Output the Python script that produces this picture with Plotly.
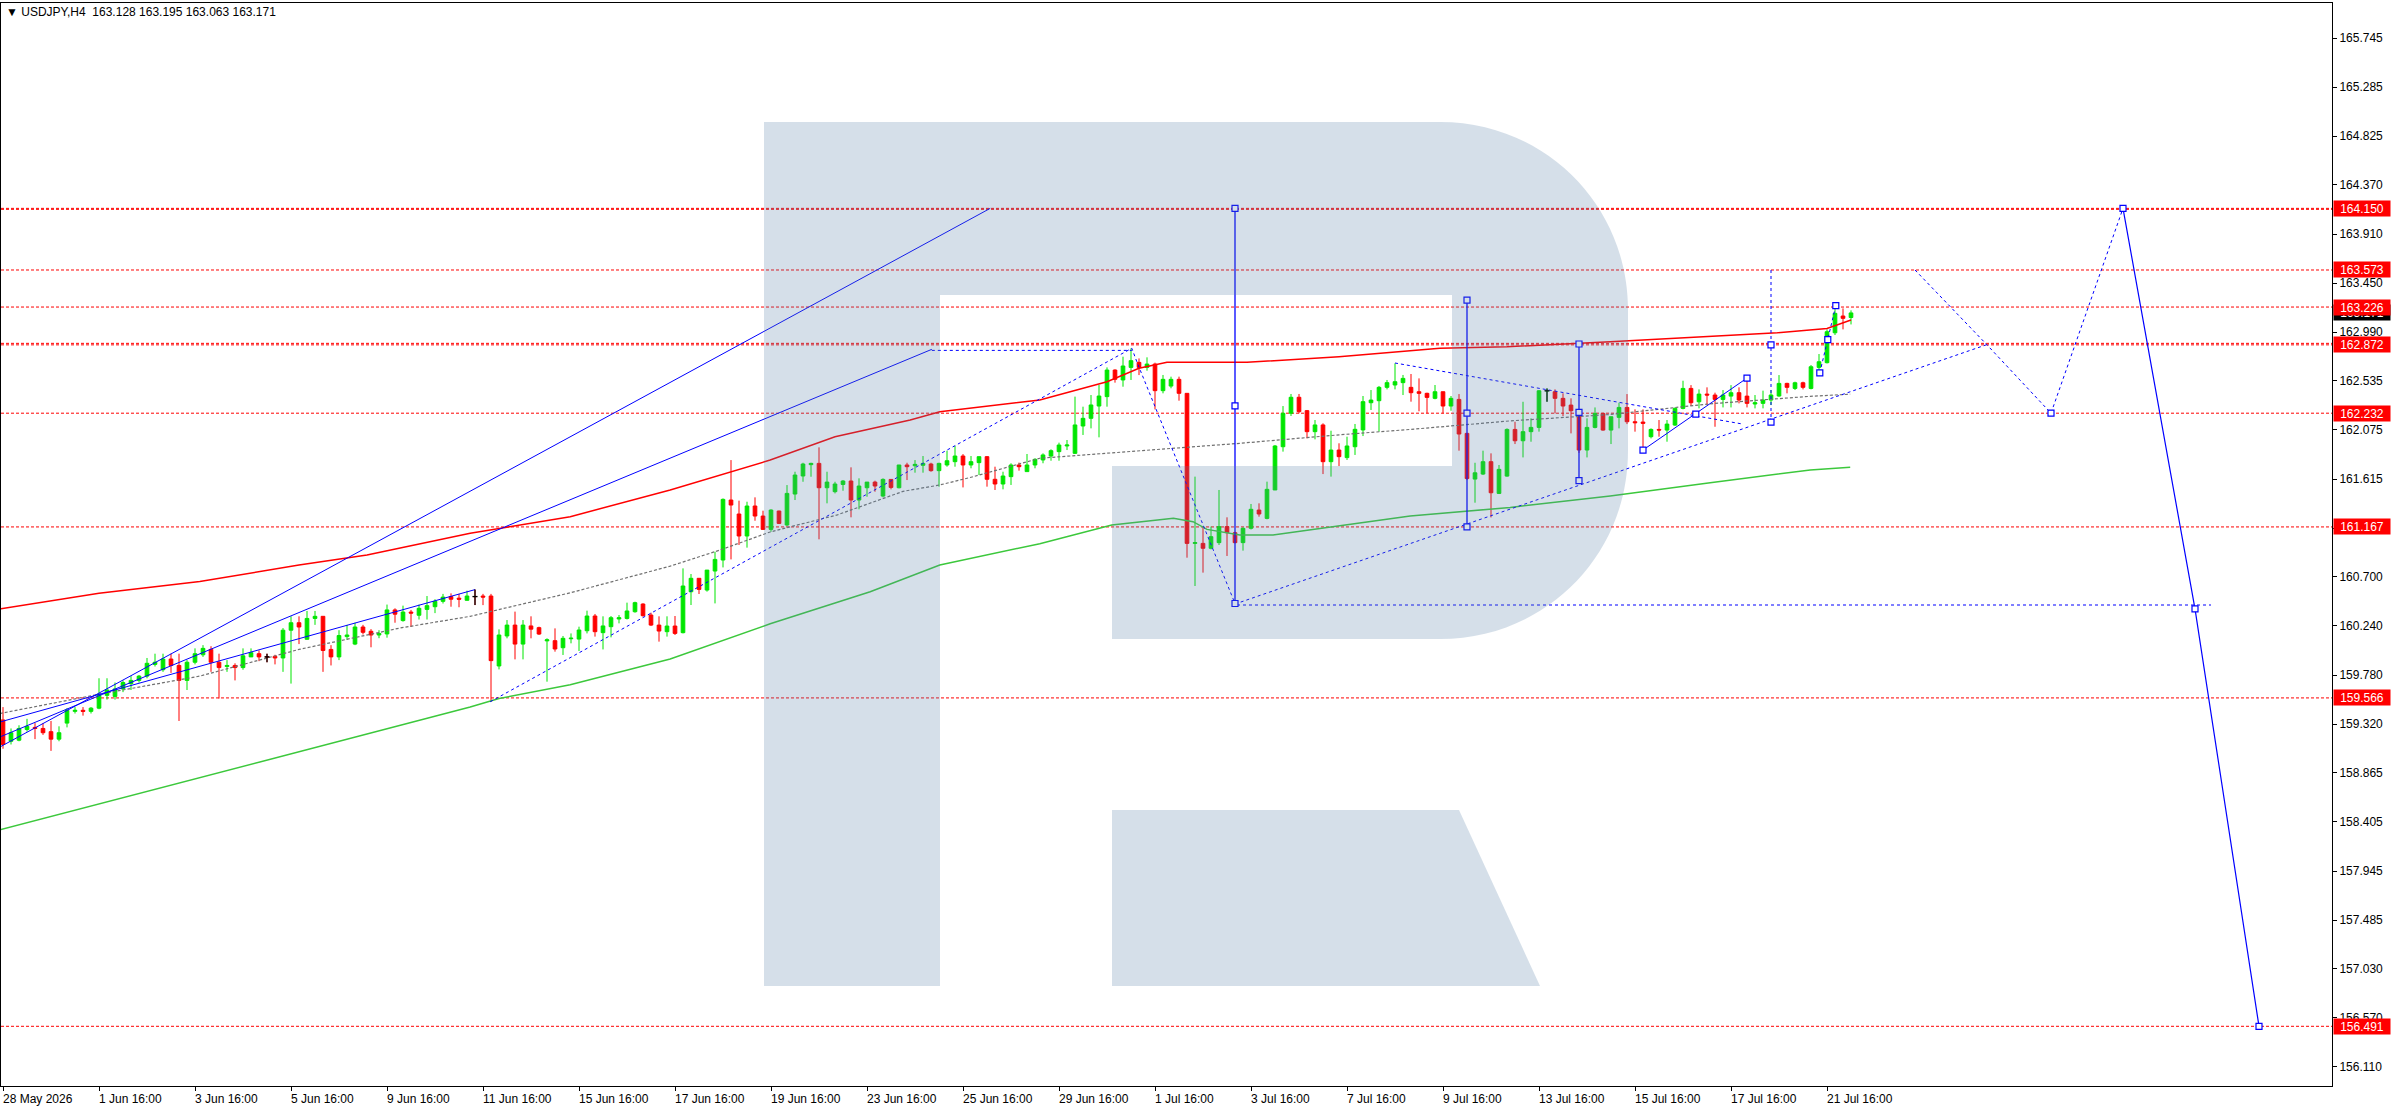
import plotly.graph_objects as go

# USDJPY H4 candles, bar 0 = 28 May 2026 16:00 (one bar every 4 hours)
bar_open = [
    159.36, 159.16, 159.17, 159.27, 159.29, 159.28, 159.25, 159.18, 159.33, 159.44,
    159.45, 159.44, 159.47, 159.59, 159.58, 159.65, 159.70, 159.73, 159.77, 159.88,
    159.83, 159.93, 159.87, 159.73, 159.90, 159.97, 160.02, 159.90, 159.86, 159.87,
    159.85, 159.95, 159.98, 159.95, 159.955, 159.94, 160.20, 160.27, 160.115, 160.31,
    160.33, 160.02, 159.95, 160.14, 160.07, 160.23, 160.19, 160.155, 160.165, 160.39,
    160.29, 160.37, 160.34, 160.395, 160.42, 160.47, 160.515, 160.50, 160.48, 160.515,
    160.52, 160.52, 159.865, 160.146, 160.248, 160.07, 160.24, 160.224, 160.10, 160.102,
    160.036, 160.12, 160.117, 160.195, 160.333, 160.177, 160.233, 160.305, 160.31, 160.373,
    160.445, 160.342, 160.248, 160.186, 160.239, 160.177, 160.56, 160.686, 160.576, 160.754,
    160.857, 161.419, 161.288, 161.082, 161.363, 161.269, 161.144, 161.316, 161.185, 161.475,
    161.644, 161.75, 161.762, 161.534, 161.497, 161.565, 161.597, 161.419, 161.534, 161.587,
    161.456, 161.612, 161.534, 161.747, 161.74, 161.744, 161.756, 161.694, 161.747, 161.778,
    161.831, 161.747, 161.769, 161.825, 161.613, 161.569, 161.638, 161.747, 161.685, 161.747,
    161.794, 161.831, 161.872, 161.925, 161.856, 162.112, 162.184, 162.299, 162.387, 162.636,
    162.543, 162.661, 162.708, 162.661, 162.692, 162.443, 162.486, 162.549, 162.418, 161.013,
    161.013, 160.967, 161.02, 161.17, 161.113, 161.02, 161.154, 161.325, 161.247, 161.513,
    161.918, 162.231, 162.381, 162.256, 162.059, 162.122, 161.778, 161.887, 161.816, 161.918,
    162.075, 162.33, 162.349, 162.474, 162.496, 162.518, 162.474, 162.433, 162.418, 162.371,
    162.433, 162.299, 162.361, 162.043, 161.615, 161.662, 161.778, 161.481, 161.643, 162.08,
    161.974, 162.059, 162.099, 162.442, 162.433, 162.371, 162.308, 162.255, 161.887, 162.099,
    162.23, 162.074, 162.193, 162.286, 162.152, 162.149, 162.012, 162.08, 162.074, 162.121,
    162.277, 162.464, 162.339, 162.411, 162.402, 162.361, 162.392, 162.424, 162.392, 162.318,
    162.324, 162.355, 162.393, 162.511, 162.464, 162.517, 162.464, 162.661, 162.705, 162.985,
    163.142, 163.128,
]
bar_high = [
    159.48, 159.28, 159.31, 159.37, 159.33, 159.33, 159.35, 159.30, 159.47, 159.48,
    159.48, 159.48, 159.75, 159.75, 159.71, 159.73, 159.77, 159.78, 159.94, 159.98,
    159.98, 159.98, 159.98, 159.92, 160.03, 160.06, 160.05, 159.98, 159.92, 159.89,
    160.03, 160.03, 160.01, 159.98, 159.97, 160.22, 160.33, 160.33, 160.38, 160.38,
    160.33, 160.06, 160.20, 160.25, 160.27, 160.25, 160.21, 160.20, 160.44, 160.405,
    160.43, 160.39, 160.44, 160.52, 160.49, 160.54, 160.545, 160.54, 160.57, 160.58,
    160.54, 160.54, 160.208, 160.295, 160.374, 160.295, 160.33, 160.233, 160.124, 160.217,
    160.146, 160.17, 160.233, 160.383, 160.352, 160.33, 160.333, 160.342, 160.458, 160.467,
    160.452, 160.364, 160.33, 160.33, 160.333, 160.779, 160.726, 160.686, 160.763, 160.935,
    161.434, 161.793, 161.413, 161.403, 161.444, 161.319, 161.332, 161.319, 161.559, 161.684,
    161.768, 161.768, 161.912, 161.684, 161.59, 161.606, 161.725, 161.622, 161.587, 161.6,
    161.622, 161.612, 161.747, 161.768, 161.793, 161.831, 161.768, 161.768, 161.881, 161.925,
    161.849, 161.831, 161.825, 161.831, 161.731, 161.684, 161.763, 161.769, 161.85, 161.81,
    161.856, 161.894, 161.956, 161.981, 162.387, 162.293, 162.402, 162.496, 162.661, 162.643,
    162.761, 162.839, 162.745, 162.755, 162.705, 162.59, 162.574, 162.574, 162.418, 161.638,
    161.163, 161.17, 161.513, 161.257, 161.122, 161.163, 161.382, 161.388, 161.591, 161.934,
    162.299, 162.412, 162.412, 162.262, 162.168, 162.137, 162.068, 161.95, 162.012, 162.131,
    162.393, 162.449, 162.487, 162.543, 162.699, 162.59, 162.599, 162.558, 162.424, 162.496,
    162.433, 162.393, 162.411, 162.049, 161.768, 161.881, 161.856, 161.747, 162.09, 162.152,
    162.339, 162.184, 162.449, 162.464, 162.455, 162.418, 162.371, 162.255, 162.184, 162.286,
    162.236, 162.199, 162.33, 162.411, 162.268, 162.268, 162.09, 162.168, 162.168, 162.286,
    162.536, 162.495, 162.455, 162.474, 162.424, 162.449, 162.495, 162.474, 162.549, 162.402,
    162.443, 162.449, 162.589, 162.517, 162.527, 162.527, 162.683, 162.786, 163.017, 163.245,
    163.213, 163.195,
]
bar_low = [
    159.09, 159.13, 159.16, 159.25, 159.18, 159.22, 159.07, 159.16, 159.29, 159.42,
    159.40, 159.42, 159.46, 159.55, 159.55, 159.62, 159.64, 159.71, 159.75, 159.86,
    159.81, 159.80, 159.35, 159.64, 159.88, 159.95, 159.81, 159.56, 159.81, 159.73,
    159.83, 159.95, 159.91, 159.90, 159.88, 159.81, 159.70, 160.07, 160.11, 160.25,
    159.81, 159.87, 159.92, 160.11, 160.06, 160.16, 160.04, 160.125, 160.13, 160.27,
    160.28, 160.23, 160.30, 160.30, 160.36, 160.45, 160.42, 160.415, 160.477, 160.435,
    160.435, 159.53, 159.833, 160.124, 159.927, 159.927, 160.124, 160.155, 159.718, 159.999,
    159.968, 160.077, 160.005, 160.17, 160.14, 160.02, 160.133, 160.264, 160.30, 160.364,
    160.327, 160.239, 160.093, 160.14, 160.155, 160.17, 160.436, 160.539, 160.561, 160.451,
    160.788, 160.863, 160.998, 160.973, 161.225, 161.138, 161.122, 161.194, 161.175, 161.419,
    161.59, 161.637, 161.051, 161.388, 161.481, 161.506, 161.257, 161.332, 161.45, 161.497,
    161.444, 161.519, 161.528, 161.606, 161.675, 161.675, 161.684, 161.544, 161.731, 161.731,
    161.537, 161.716, 161.653, 161.544, 161.513, 161.519, 161.56, 161.694, 161.685, 161.716,
    161.763, 161.787, 161.787, 161.887, 161.85, 162.028, 162.09, 162.006, 162.293, 162.518,
    162.48, 162.543, 162.589, 162.63, 162.268, 162.418, 162.465, 162.349, 160.879, 160.614,
    160.739, 160.957, 160.998, 160.895, 161.013, 160.945, 161.143, 161.263, 161.238, 161.513,
    161.872, 162.206, 162.231, 161.997, 161.987, 161.662, 161.638, 161.737, 161.794, 161.841,
    162.018, 162.262, 162.059, 162.455, 162.455, 162.402, 162.34, 162.25, 162.231, 162.362,
    162.23, 162.255, 161.881, 161.606, 161.394, 161.653, 161.256, 161.475, 161.637, 161.943,
    161.818, 161.965, 162.059, 162.34, 162.23, 162.205, 162.043, 161.86, 161.818, 162.09,
    162.068, 161.943, 162.09, 162.13, 162.059, 161.893, 161.996, 162.012, 161.965, 162.112,
    162.268, 162.299, 162.277, 162.308, 162.105, 162.286, 162.286, 162.324, 162.286, 162.277,
    162.277, 162.308, 162.386, 162.418, 162.449, 162.455, 162.455, 162.62, 162.698, 162.964,
    163.017, 163.063,
]
bar_close = [
    159.13, 159.24, 159.28, 159.30, 159.28, 159.24, 159.18, 159.24, 159.45, 159.45,
    159.44, 159.47, 159.60, 159.64, 159.65, 159.71, 159.73, 159.77, 159.89, 159.90,
    159.93, 159.87, 159.73, 159.90, 159.98, 160.03, 159.90, 159.85, 159.87, 159.85,
    159.96, 159.99, 159.95, 159.95, 159.94, 160.20, 160.27, 160.23, 160.31, 160.33,
    160.01, 159.95, 160.15, 160.155, 160.23, 160.18, 160.155, 160.17, 160.39, 160.35,
    160.37, 160.36, 160.405, 160.43, 160.47, 160.51, 160.49, 160.49, 160.52, 160.515,
    160.51, 159.915, 160.155, 160.248, 160.07, 160.248, 160.21, 160.164, 160.11, 160.024,
    160.124, 160.125, 160.202, 160.333, 160.186, 160.24, 160.317, 160.317, 160.38, 160.458,
    160.336, 160.248, 160.192, 160.239, 160.17, 160.614, 160.686, 160.582, 160.763, 160.863,
    161.425, 161.372, 161.082, 161.363, 161.269, 161.144, 161.325, 161.2, 161.481, 161.653,
    161.756, 161.762, 161.534, 161.587, 161.569, 161.597, 161.419, 161.55, 161.587, 161.55,
    161.612, 161.537, 161.747, 161.731, 161.753, 161.762, 161.694, 161.762, 161.787, 161.831,
    161.747, 161.778, 161.825, 161.613, 161.569, 161.644, 161.747, 161.731, 161.747, 161.8,
    161.841, 161.881, 161.934, 161.934, 162.122, 162.184, 162.309, 162.393, 162.636, 162.549,
    162.674, 162.724, 162.661, 162.692, 162.443, 162.549, 162.549, 162.418, 161.013, 161.02,
    160.967, 161.076, 161.17, 161.113, 161.02, 161.154, 161.332, 161.288, 161.519, 161.925,
    162.231, 162.381, 162.246, 162.059, 162.122, 161.778, 161.887, 161.825, 161.925, 162.081,
    162.34, 162.355, 162.474, 162.518, 162.527, 162.558, 162.424, 162.418, 162.38, 162.433,
    162.299, 162.371, 162.037, 161.62, 161.674, 161.778, 161.487, 161.706, 162.08, 161.974,
    162.059, 162.099, 162.442, 162.442, 162.371, 162.299, 162.255, 161.887, 162.099, 162.23,
    162.074, 162.199, 162.286, 162.152, 162.143, 162.137, 162.08, 162.074, 162.13, 162.277,
    162.464, 162.33, 162.411, 162.402, 162.361, 162.402, 162.424, 162.355, 162.324, 162.33,
    162.355, 162.402, 162.511, 162.474, 162.517, 162.474, 162.667, 162.714, 162.995, 163.167,
    163.12, 163.171,
]

tick_bars = [0, 12, 24, 36, 48, 60, 72, 84, 96, 108, 120, 132, 144, 156, 168, 180, 192, 204, 216, 228]
tick_labels = ["28 May 2026", "1 Jun 16:00", "3 Jun 16:00", "5 Jun 16:00", "9 Jun 16:00",
               "11 Jun 16:00", "15 Jun 16:00", "17 Jun 16:00", "19 Jun 16:00", "23 Jun 16:00",
               "25 Jun 16:00", "29 Jun 16:00", "1 Jul 16:00", "3 Jul 16:00", "7 Jul 16:00",
               "9 Jul 16:00", "13 Jul 16:00", "15 Jul 16:00", "17 Jul 16:00", "21 Jul 16:00"]
price_ticks = [165.745, 165.285, 164.825, 164.370, 163.910, 163.450, 162.990, 162.535, 162.075,
               161.615, 161.155, 160.700, 160.240, 159.780, 159.320, 158.865, 158.405, 157.945,
               157.485, 157.030, 156.570, 156.110]

# horizontal support / resistance levels
levels = [164.150, 163.573, 163.226, 162.872, 162.232, 161.167, 159.566, 156.491]
twin_levels = [164.141, 162.886]
last_price = 163.171

# moving averages, read at a few points along each curve
ma_slow_x = [-0.4, 12, 24.6, 37, 45.5, 54.6, 58.4, 70.9, 83.4, 95.9, 104, 113.4, 117.1, 129.6,
             138, 142, 145.5, 155.5, 167, 179.6, 188, 200.9, 213, 221.8, 228, 231]
ma_slow_y = [160.40, 160.546, 160.655, 160.811, 160.905, 161.045, 161.107, 161.263, 161.513,
             161.793, 162.012, 162.168, 162.246, 162.355, 162.527, 162.652, 162.708, 162.708,
             162.761, 162.839, 162.854, 162.901, 162.948, 162.985, 163.026, 163.104]
ma_long_x = [-0.4, 28.8, 58.4, 62, 70.9, 83.4, 95.9, 108.4, 117.1, 129.6, 138.6, 146.3, 148.75,
             150.5, 154.6, 158.75, 167.1, 175.9, 188.4, 200.9, 213.4, 225.9, 230.9]
ma_long_y = [158.33, 158.90, 159.48, 159.56, 159.69, 159.93, 160.26, 160.56, 160.81, 161.01,
             161.185, 161.248, 161.216, 161.144, 161.091, 161.091, 161.176, 161.269, 161.35,
             161.456, 161.581, 161.70, 161.725]
ma_mid_x = [-0.4, 12, 24.6, 37, 49.6, 58.4, 70.9, 83.4, 89.6, 95.9, 104.3, 112.5, 117.1, 120.9,
            129.6, 142.1, 154.6, 167.1, 175.9, 188.4, 200.9, 213.4, 225.9, 230.9]
ma_mid_y = [159.42, 159.60, 159.77, 160.02, 160.22, 160.33, 160.55, 160.80, 160.95, 161.12,
            161.28, 161.50, 161.56, 161.63, 161.81, 161.88, 161.95, 162.03, 162.08, 162.16,
            162.22, 162.32, 162.39, 162.41]

# blue drawing objects (bar index, price)
fan_x = [[-0.4, 123.4], [-0.4, 116.1], [-0.4, 59.0], [205.0, 218.0]]
fan_y = [[159.106, 164.150], [159.20, 162.83], [159.34, 160.58], [161.887, 162.561]]
zigzag_x = [60.9, 141.1, 141.8, 154.0]
zigzag_y = [159.53, 162.84, 162.70, 160.45]
dashed_x = [[116.1, 141.1], [154.25, 276.0], [154.0, 247.9], [174.0, 217.4],
            [227.1, 228.1, 229.1], [221.0, 221.0]]
dashed_y = [[162.82, 162.82], [160.436, 160.436], [160.445, 162.872], [162.702, 162.131],
            [162.61, 162.92, 163.24], [163.573, 162.149]]
ruler_x = [154, 183, 197]
ruler_top = [164.150, 163.29, 162.88]
ruler_mid = [162.30, 162.232, 162.24]
ruler_bottom = [160.45, 161.167, 161.60]
forecast_x = [239, 248, 256, 265, 274, 282]
forecast_y = [163.573, 162.872, 162.232, 164.150, 160.40, 156.491]
anchor_x = [205.0, 211.6, 218.0, 221.0, 221.0, 227.1, 228.1, 229.1]
anchor_y = [161.887, 162.224, 162.561, 162.872, 162.149, 162.61, 162.92, 163.24]

UP, DOWN, BLUE = "#00E600", "#FF0000", "#0000FF"
FONT = "Liberation Sans, DejaVu Sans, sans-serif"
W, H = 2396, 1110
ML, MR, MT, MB = 1, 64, 3, 24


def to_paper(px, py):
    """Pixel position inside the page -> paper coordinates."""
    return (px - ML) / (W - ML - MR), (H - MB - py) / (H - MT - MB)


def svg_path(cmds):
    parts = []
    for cmd, pts in cmds:
        coords = " ".join("%.5f,%.5f" % to_paper(*p) for p in pts)
        parts.append(cmd + coords)
    return " ".join(parts) + " Z"


def build_figure():
    bars = list(range(len(bar_close)))
    fig = go.Figure()

    # moving averages
    fig.add_trace(go.Scatter(x=ma_long_x, y=ma_long_y, mode="lines",
                             line=dict(color="#3CC83C", width=1.5)))
    fig.add_trace(go.Scatter(x=ma_mid_x, y=ma_mid_y, mode="lines",
                             line=dict(color="#707070", width=1.2, dash="3px,2px")))
    fig.add_trace(go.Scatter(x=ma_slow_x, y=ma_slow_y, mode="lines",
                             line=dict(color="#FF0000", width=1.5)))

    # blue trend lines
    for xs, ys in zip(fan_x, fan_y):
        fig.add_trace(go.Scatter(x=xs, y=ys, mode="lines", line=dict(color=BLUE, width=1)))
    fig.add_trace(go.Scatter(x=zigzag_x, y=zigzag_y, mode="lines",
                             line=dict(color=BLUE, width=1, dash="3px,3px")))
    for xs, ys in zip(dashed_x, dashed_y):
        fig.add_trace(go.Scatter(x=xs, y=ys, mode="lines",
                                 line=dict(color=BLUE, width=1, dash="3px,3px")))
    for x, top, bottom in zip(ruler_x, ruler_top, ruler_bottom):
        fig.add_trace(go.Scatter(x=[x, x], y=[top, bottom], mode="lines",
                                 line=dict(color=BLUE, width=1.3)))
    fig.add_trace(go.Scatter(x=forecast_x[:4], y=forecast_y[:4], mode="lines",
                             line=dict(color=BLUE, width=1, dash="3px,3px")))
    fig.add_trace(go.Scatter(x=forecast_x[3:], y=forecast_y[3:], mode="lines",
                             line=dict(color=BLUE, width=1.2)))

    # candles
    fig.add_trace(go.Candlestick(
        x=bars, open=bar_open, high=bar_high, low=bar_low, close=bar_close,
        increasing=dict(line=dict(color=UP, width=1), fillcolor=UP),
        decreasing=dict(line=dict(color=DOWN, width=1), fillcolor=DOWN),
        whiskerwidth=0,
    ))
    # doji bars are black crosses
    dx, dy = [], []
    for i in bars:
        if bar_open[i] == bar_close[i]:
            dx += [i, i, None, i - 0.32, i + 0.32, None]
            dy += [bar_low[i], bar_high[i], None, bar_open[i], bar_open[i], None]
    fig.add_trace(go.Scatter(x=dx, y=dy, mode="lines", line=dict(color="black", width=1.3)))

    # anchor squares
    mx = anchor_x + ruler_x * 3 + forecast_x[2:]
    my = anchor_y + ruler_top + ruler_mid + ruler_bottom + forecast_y[2:]
    fig.add_trace(go.Scatter(x=mx, y=my, mode="markers",
                             marker=dict(symbol="square", size=6, color="white",
                                         line=dict(color=BLUE, width=1.2))))

    # red dashed levels
    for lv in levels + twin_levels:
        fig.add_shape(type="line", xref="paper", x0=0, x1=1, yref="y", y0=lv, y1=lv,
                      line=dict(color="#FF0000", width=1, dash="3px,2px"), layer="below")

    # watermark logo drawn over the chart
    logo_fill = "rgba(88,128,168,0.25)"
    body = svg_path([
        ("M", [(764, 122)]), ("L", [(1440, 122)]),
        ("C", [(1545, 122), (1628, 205), (1628, 310)]), ("L", [(1628, 451)]),
        ("C", [(1628, 556), (1545, 639), (1440, 639)]), ("L", [(1112, 639)]),
        ("L", [(1112, 466)]), ("L", [(1452, 466)]), ("L", [(1452, 295)]),
        ("L", [(940, 295)]), ("L", [(940, 986)]), ("L", [(764, 986)]),
    ])
    leg = svg_path([
        ("M", [(1112, 810)]), ("L", [(1459, 810)]), ("L", [(1540, 986)]), ("L", [(1112, 986)]),
    ])
    for p in (body, leg):
        fig.add_shape(type="path", path=p, xref="paper", yref="paper",
                      fillcolor=logo_fill, line=dict(width=0), layer="above")

    # price labels on the right axis
    fig.add_annotation(x=1, xref="paper", y=last_price, yref="y", text="%.3f" % last_price,
                       xanchor="left", xshift=1, showarrow=False, bgcolor="black",
                       font=dict(family=FONT, size=12, color="white"),
                       width=54, height=13, borderpad=1)
    for lv in levels:
        fig.add_annotation(x=1, xref="paper", y=lv, yref="y", text="%.3f" % lv,
                           xanchor="left", xshift=1, showarrow=False, bgcolor="#FF0000",
                           font=dict(family=FONT, size=12, color="white"),
                           width=54, height=13, borderpad=1)

    # time labels, left aligned at their tick like the terminal does
    for b, lab in zip(tick_bars, tick_labels):
        fig.add_annotation(x=b, xref="x", y=0, yref="paper", text=lab, xanchor="left",
                           yanchor="top", xshift=-2, yshift=-4, showarrow=False,
                           font=dict(family=FONT, size=12, color="black"))

    fig.add_annotation(x=0, xref="paper", y=1, yref="paper", xanchor="left", yanchor="top",
                       xshift=3, yshift=0, showarrow=False,
                       text="\u25bc USDJPY,H4\u00a0\u00a0163.128 163.195 163.063 163.171",
                       font=dict(family=FONT, size=12, color="black"))

    fig.update_layout(
        width=W, height=H,
        margin=dict(l=ML, r=MR, t=MT, b=MB),
        paper_bgcolor="white", plot_bgcolor="white",
        showlegend=False, hovermode=False, boxgap=0.35,
        xaxis=dict(range=[-0.25, 291.125], rangeslider=dict(visible=False),
                   showgrid=False, zeroline=False, showline=True, mirror=True,
                   linecolor="black", linewidth=1, ticks="outside", ticklen=4,
                   tickcolor="black", tickvals=tick_bars, showticklabels=False),
        yaxis=dict(range=[155.932, 166.073], side="right", showgrid=False, zeroline=False,
                   showline=True, mirror=True, linecolor="black", linewidth=1,
                   ticks="outside", ticklen=4, tickcolor="black",
                   tickvals=price_ticks, ticktext=["%.3f" % v for v in price_ticks],
                   tickfont=dict(family=FONT, size=12, color="black")),
    )
    return fig


def main():
    fig = build_figure()
    # the page keeps the browser's default 8px body margin otherwise
    fig.write_html("out.html", config={"displayModeBar": False},
                   post_script="document.body.style.margin='0px';")


if __name__ == "__main__":
    main()
